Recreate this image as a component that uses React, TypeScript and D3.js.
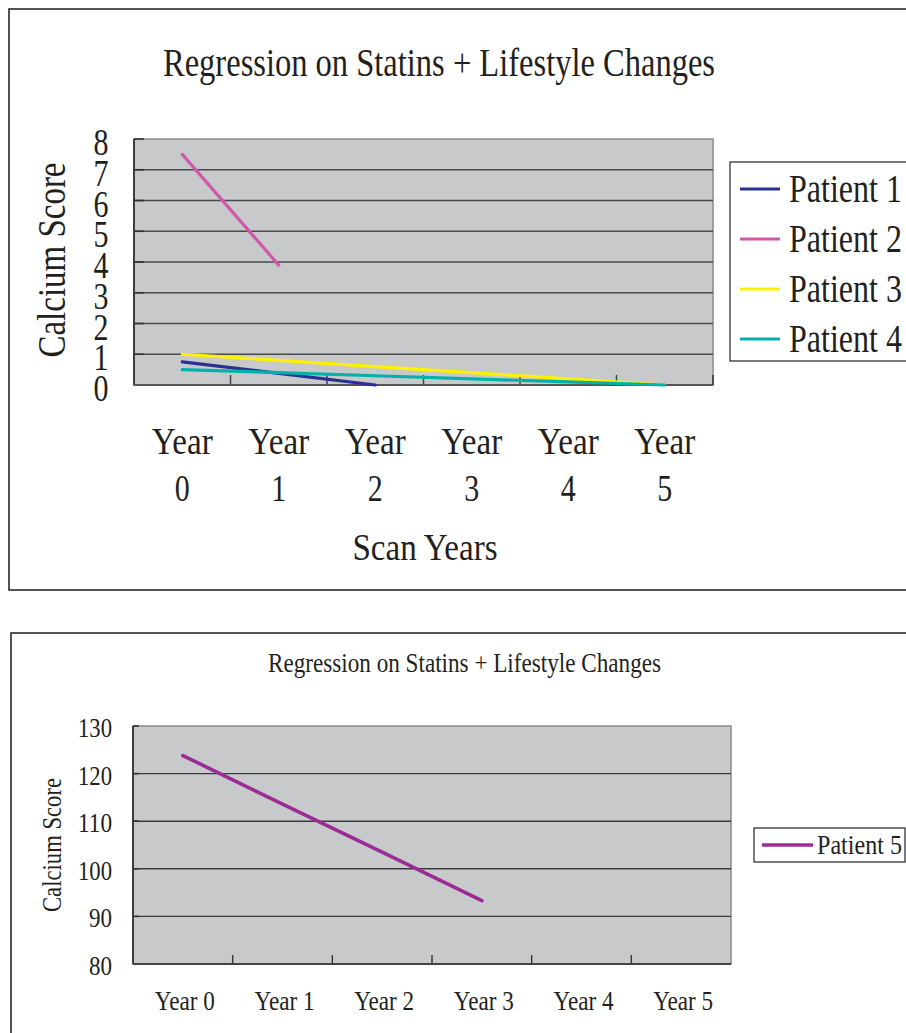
import React from "react";
import * as d3 from "d3";

const years = ["Year 0", "Year 1", "Year 2", "Year 3", "Year 4", "Year 5"];
const patients = ["Patient 1", "Patient 2", "Patient 3", "Patient 4"];
const patient1: (number | null)[] = [0.75, 0.38, 0, null, null, null];
const patient2: (number | null)[] = [7.5, 3.9, null, null, null, null];
const patient3: (number | null)[] = [1.0, 0.8, 0.6, 0.4, 0.2, 0];
const patient4: (number | null)[] = [0.5, 0.4, 0.3, 0.2, 0.1, 0];
const patient5: (number | null)[] = [123.8, 113.6, 103.5, 93.3, null, null];
const topTicks = [0, 1, 2, 3, 4, 5, 6, 7, 8];
const bottomTicks = [80, 90, 100, 110, 120, 130];
const colors = ["#2b3192", "#cf58a8", "#fff200", "#00b2aa"];
const color5 = "#9b2c95";
const title = "Regression on Statins + Lifestyle Changes";

const FONT = "'Liberation Serif', 'DejaVu Serif', serif";
const TXT = "#231f20";

function T(props: { x: number; y: number; s: string; size: number; w: number; anchor?: string; rotate?: boolean }) {
  const { x, y, s, size, w, anchor = "middle", rotate } = props;
  return (
    <text
      transform={rotate ? `translate(${x},${y}) rotate(-90)` : `translate(${x},${y})`}
      textAnchor={anchor}
      fontFamily={FONT}
      fontSize={size}
      fill={TXT}
      textLength={w}
      lengthAdjust="spacingAndGlyphs"
    >
      {s}
    </text>
  );
}

function TopChart() {
  const x = d3.scaleBand<string>().domain(years).range([134, 713]);
  const y = d3.scaleLinear().domain([0, 8]).range([385, 139]);
  const series = [patient1, patient2, patient3, patient4];
  const line = d3
    .line<number | null>()
    .defined((d) => d !== null)
    .x((_, i) => (x(years[i]) as number) + x.bandwidth() / 2)
    .y((d) => y(d as number));
  const [x0, x1] = x.range();
  return (
    <g>
      <rect x={9} y={9} width={920} height={581} fill="#fff" stroke="#2a2a2a" strokeWidth={1.6} />
      <T x={439} y={76} s={title} size={40} w={552} />
      <rect x={x0} y={y(8)} width={x1 - x0} height={y(0) - y(8)} fill="#c8c9cb" stroke="#8a8a8a" strokeWidth={1.5} />
      {topTicks.slice(1, -1).map((t) => (
        <line key={t} x1={x0} x2={x1} y1={y(t)} y2={y(t)} stroke="#4a4a4a" strokeWidth={1.4} />
      ))}
      {topTicks.map((t) => (
        <line key={"yt" + t} x1={x0} x2={x0 + 10} y1={y(t)} y2={y(t)} stroke="#333" strokeWidth={1.6} />
      ))}
      {years.slice(1).map((yr) => (
        <line key={yr} x1={x(yr) as number} x2={x(yr) as number} y1={y(0)} y2={y(0) - 10} stroke="#444" strokeWidth={1.5} />
      ))}
      <line x1={x1} x2={x1} y1={y(0)} y2={y(0) - 10} stroke="#333" strokeWidth={1.5} />
      <line x1={x0} x2={x0} y1={y(8)} y2={y(0)} stroke="#333" strokeWidth={1.8} />
      <line x1={x0} x2={x1} y1={y(0)} y2={y(0)} stroke="#555" strokeWidth={2} />
      {series.map((s, i) => (
        <path key={i} d={line(s) as string} fill="none" stroke={colors[i]} strokeWidth={3.2} strokeLinecap="round" />
      ))}
      {topTicks.map((t) => (
        <T key={"yl" + t} x={101} y={y(t) + 16} s={String(t)} size={37} w={15} />
      ))}
      <T x={65} y={260} s="Calcium Score" size={40} w={195} rotate />
      {years.map((yr) => {
        const cx = (x(yr) as number) + x.bandwidth() / 2;
        const [a, b] = yr.split(" ");
        return (
          <g key={yr}>
            <T x={cx} y={454} s={a} size={38} w={61} />
            <T x={cx} y={501} s={b} size={38} w={15} />
          </g>
        );
      })}
      <T x={425} y={560} s="Scan Years" size={38} w={145} />
      <rect x={730} y={162} width={200} height={199} fill="#fff" stroke="#222" strokeWidth={1.2} />
      {patients.map((p, i) => {
        const ly = 189 + i * 50;
        return (
          <g key={p}>
            <line x1={740} x2={780} y1={ly} y2={ly} stroke={colors[i]} strokeWidth={3} />
            <T x={789} y={ly + 13} s={p} size={39} w={113} anchor="start" />
          </g>
        );
      })}
    </g>
  );
}

function BottomChart() {
  const x = d3.scaleBand<string>().domain(years).range([133, 731]);
  const y = d3.scaleLinear().domain([80, 130]).range([964, 726]);
  const line = d3
    .line<number | null>()
    .defined((d) => d !== null)
    .x((_, i) => (x(years[i]) as number) + x.bandwidth() / 2)
    .y((d) => y(d as number));
  const [x0, x1] = x.range();
  return (
    <g>
      <rect x={11} y={633} width={920} height={440} fill="#fff" stroke="#2a2a2a" strokeWidth={1.6} />
      <T x={464.5} y={672} s={title} size={27} w={393} />
      <rect x={x0} y={y(130)} width={x1 - x0} height={y(80) - y(130)} fill="#c8c9cb" stroke="#8a8a8a" strokeWidth={1.5} />
      {bottomTicks.slice(1, -1).map((t) => (
        <line key={t} x1={x0} x2={x1} y1={y(t)} y2={y(t)} stroke="#3a3a3a" strokeWidth={1.4} />
      ))}
      {bottomTicks.map((t) => (
        <line key={"yt" + t} x1={x0} x2={x0 + 6} y1={y(t)} y2={y(t)} stroke="#333" strokeWidth={1.6} />
      ))}
      {years.slice(1).map((yr) => (
        <line key={yr} x1={x(yr) as number} x2={x(yr) as number} y1={y(80)} y2={y(80) - 9} stroke="#333" strokeWidth={1.4} />
      ))}
      <line x1={x0} x2={x0} y1={y(130)} y2={y(80)} stroke="#333" strokeWidth={1.8} />
      <line x1={x0} x2={x1} y1={y(80)} y2={y(80)} stroke="#444" strokeWidth={2} />
      <path d={line(patient5) as string} fill="none" stroke={color5} strokeWidth={3.6} strokeLinecap="round" />
      {bottomTicks.map((t) => (
        <T key={"yl" + t} x={112} y={y(t) + 11} s={String(t)} size={27} w={t >= 100 ? 34 : 23} anchor="end" />
      ))}
      <T x={61} y={845} s="Calcium Score" size={27} w={134} rotate />
      {years.map((yr) => (
        <T key={yr} x={(x(yr) as number) + x.bandwidth() / 2 + 2} y={1010} s={yr} size={27} w={60} />
      ))}
      <rect x={754} y={828} width={151} height={34} fill="#fff" stroke="#222" strokeWidth={1.2} />
      <line x1={762} x2={813} y1={845} y2={845} stroke={color5} strokeWidth={3.6} />
      <T x={817} y={854} s="Patient 5" size={28} w={85} anchor="start" />
    </g>
  );
}

export default function App() {
  return (
    <svg
      width={906}
      height={1033}
      viewBox="0 0 906 1033"
      style={{ position: "absolute", left: 0, top: 0, background: "#fff" }}
    >
      <TopChart />
      <BottomChart />
    </svg>
  );
}
